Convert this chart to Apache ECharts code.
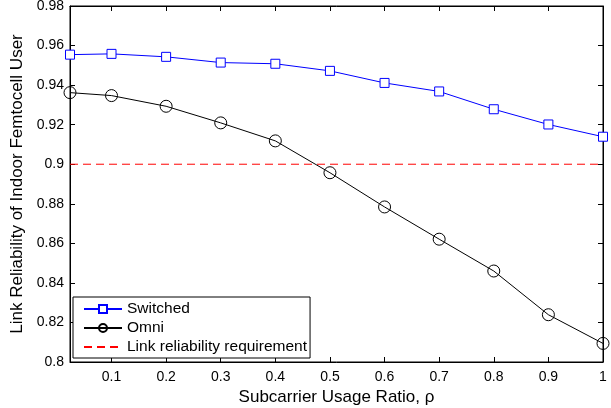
<!DOCTYPE html>
<html>
<head>
  <meta charset="utf-8" />
  <title>Link reliability</title>
  <script src="https://cdn.jsdelivr.net/npm/echarts@6/dist/echarts.min.js"></script>
  <style>
    html, body { margin: 0; padding: 0; background: #fff; }
  </style>
</head>
<body>
<div id="main" style="width: 611px;height:408px;"></div>
<script type="text/javascript">
  // subcarrier usage ratio (x values)
  var rho = [0.024, 0.1, 0.2, 0.3, 0.4, 0.5, 0.6, 0.7, 0.8, 0.9, 1];
  var switched = [0.9554, 0.9558, 0.9543, 0.9514, 0.9508, 0.9472, 0.9411, 0.9368, 0.9278, 0.9201, 0.9139];
  var omni = [0.9362, 0.9347, 0.9293, 0.9209, 0.9118, 0.8957, 0.8784, 0.8621, 0.8460, 0.8239, 0.8094];
  var requirement = 0.9;
  var xTicks = [0.1, 0.2, 0.3, 0.4, 0.5, 0.6, 0.7, 0.8, 0.9, 1];

  function pairs(xs, ys) {
    var out = [];
    for (var i = 0; i < xs.length; i++) out.push([xs[i], ys[i]]);
    return out;
  }
  function fmt(v) { return String(parseFloat(v.toFixed(2))); }

  var font = 'Liberation Sans, Arial, sans-serif';
  var chart = echarts.init(document.getElementById('main'));
  var option = {
    animation: false,
    textStyle: { fontFamily: font, color: '#000' },
    grid: {
      left: 70, right: 8, top: 6, bottom: 46,
      outerBoundsMode: 'none',
      show: true, borderColor: '#000', borderWidth: 1, backgroundColor: '#fff'
    },
    legend: {
      orient: 'vertical',
      left: 73, top: 297,
      data: [
        { name: 'Switched' },
        { name: 'Omni' },
        { name: 'Link reliability requirement', itemStyle: { opacity: 0 } }
      ],
      itemWidth: 38, itemHeight: 10, itemGap: 3,
      borderColor: '#000', borderWidth: 1,
      backgroundColor: '#fff',
      padding: [4, 3, 3, 10],
      textStyle: { fontFamily: font, fontSize: 15.5, color: '#000', lineHeight: 16 }
    },
    xAxis: [{
      type: 'value', min: 0.024, max: 1,
      name: 'Subcarrier Usage Ratio, \u03c1',
      nameLocation: 'middle', nameGap: 23,
      nameTextStyle: { fontFamily: font, fontSize: 17, color: '#000' },
      axisLine: { lineStyle: { color: '#000' } },
      axisTick: { inside: true, length: 5, customValues: xTicks, lineStyle: { color: '#000' } },
      axisLabel: { customValues: xTicks, formatter: fmt, fontSize: 14, color: '#000', margin: 8, fontFamily: font },
      splitLine: { show: false }
    }, {
      type: 'value', min: 0.024, max: 1, position: 'top',
      axisLine: { lineStyle: { color: '#000' } },
      axisTick: { inside: true, length: 5, customValues: xTicks, lineStyle: { color: '#000' } },
      axisLabel: { show: false },
      splitLine: { show: false }
    }],
    yAxis: [{
      type: 'value', min: 0.8, max: 0.98, interval: 0.02,
      name: 'Link Reliability of Indoor Femtocell User',
      nameLocation: 'middle', nameGap: 40,
      nameTextStyle: { fontFamily: font, fontSize: 17, color: '#000' },
      axisLine: { show: true, lineStyle: { color: '#000' } },
      axisTick: { show: true, inside: true, length: 5, lineStyle: { color: '#000' } },
      axisLabel: { formatter: fmt, fontSize: 14, color: '#000', margin: 6, fontFamily: font },
      splitLine: { show: false }
    }, {
      type: 'value', min: 0.8, max: 0.98, interval: 0.02, position: 'right',
      axisLine: { show: true, lineStyle: { color: '#000' } },
      axisTick: { show: true, inside: true, length: 5, lineStyle: { color: '#000' } },
      axisLabel: { show: false },
      splitLine: { show: false }
    }],
    series: [{
      name: 'Switched', type: 'line',
      data: pairs(rho, switched),
      symbol: 'rect', symbolSize: 9,
      lineStyle: { color: '#0000ff', width: 1 },
      itemStyle: { color: '#fff', borderColor: '#0000ff', borderWidth: 1 },
      z: 3
    }, {
      name: 'Omni', type: 'line',
      data: pairs(rho, omni),
      symbol: 'circle', symbolSize: 12,
      lineStyle: { color: '#000', width: 1 },
      itemStyle: { color: 'transparent', borderColor: '#000', borderWidth: 1 },
      z: 3
    }, {
      name: 'Link reliability requirement', type: 'line',
      data: [[0.024, requirement], [1, requirement]],
      symbol: 'none',
      lineStyle: { color: '#ff0000', width: 1, type: [8, 5] },
      itemStyle: { color: '#ff0000' },
      z: 2
    }]
  };
  chart.setOption(option);
</script>
</body>
</html>
